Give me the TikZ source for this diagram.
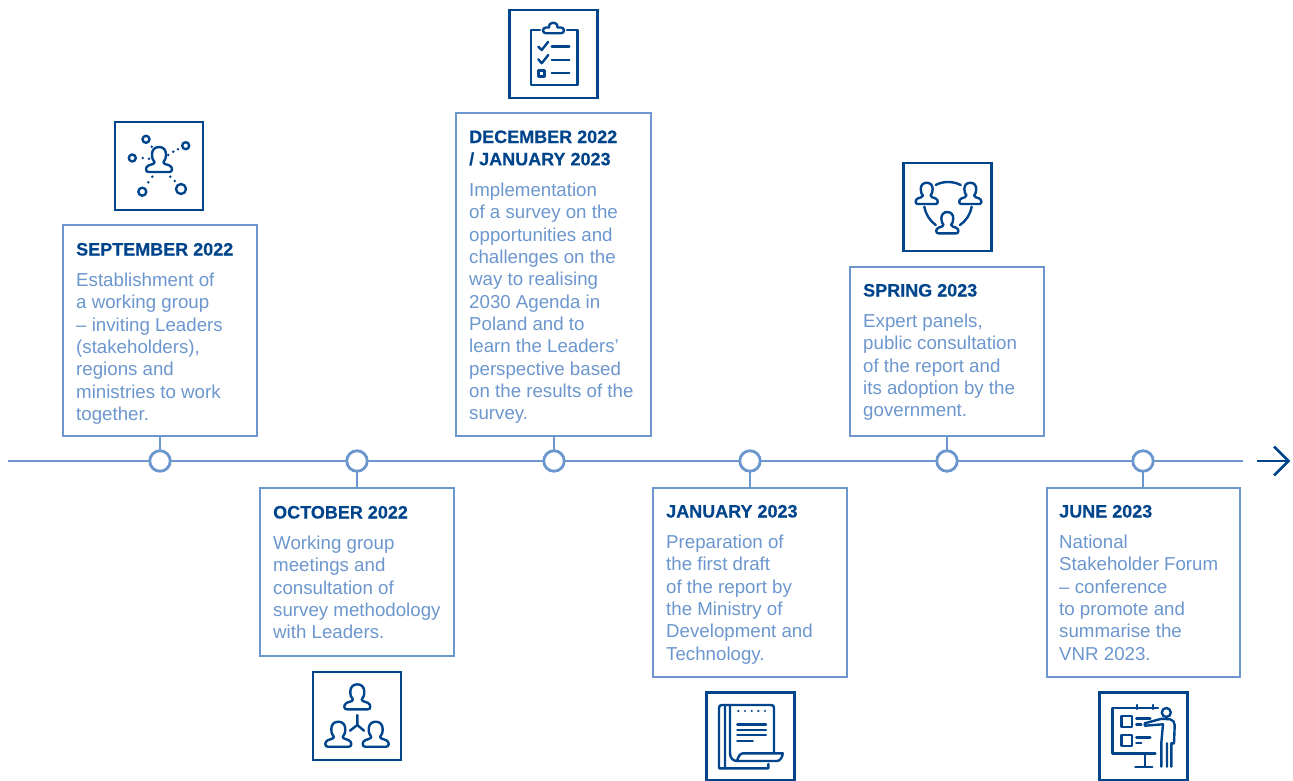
\documentclass[tikz,border=0pt]{standalone}
\usepackage{fontspec}
\setmainfont{Liberation Sans}
\newfontfamily\headfont[FakeBold=0.35]{Liberation Sans Bold}
\definecolor{lite}{HTML}{6C97CE}
\definecolor{deep}{HTML}{00458C}
\tikzset{
 x=1pt,y=-1pt,
 panel/.style={draw=lite,line width=2.8pt,fill=white,anchor=north west,inner sep=0pt,outer sep=0pt},
 iconbox/.style={draw=deep,line width=2.8pt,anchor=north west,minimum width=88pt,minimum height=88pt,inner sep=0pt,outer sep=0pt},
 stop/.style={circle,draw=lite,line width=2.8pt,fill=white,minimum size=20.5pt,inner sep=0pt,outer sep=0pt},
 rail/.style={draw=lite,line width=2.8pt},
 heading/.style={anchor=base west,inner sep=0pt,text=deep,font=\fontsize{18}{22.3}\selectfont\headfont,align=left},
 bodytext/.style={anchor=north west,inner sep=0pt,text=lite,font=\fontsize{18.7}{22.35}\selectfont,align=left},
 glyph/.style={draw=deep,line width=2.4pt,line cap=round,line join=round},
}
\newcommand{\strt}{\rule{0pt}{15pt}}
\newcommand{\personglyph}[3]{%
 \draw[glyph,shift={(#1,#2)},scale=#3] (0,-25) .. controls (-4.5,-25) and (-7,-22) .. (-7,-17.5)
  .. controls (-7,-14) and (-6,-11.5) .. (-4.5,-10) .. controls (-4.5,-7.5) and (-8,-8) .. (-10.5,-6.5)
  .. controls (-12.5,-5.5) and (-13,-4) .. (-13,-2.5) .. controls (-13,-1) and (-12,0) .. (-10.5,0)
  -- (10.5,0) .. controls (12,0) and (13,-1) .. (13,-2.5) .. controls (13,-4) and (12.5,-5.5) .. (10.5,-6.5)
  .. controls (8,-8) and (4.5,-7.5) .. (4.5,-10) .. controls (6,-11.5) and (7,-14) .. (7,-17.5)
  .. controls (7,-22) and (4.5,-25) .. (0,-25) -- cycle;}
\begin{document}
\begin{tikzpicture}
\useasboundingbox (0,0) rectangle (1293,781);
% timeline
\coordinate (railstart) at (8,461);
\coordinate (railend) at (1243,461);
\coordinate (arrowtail) at (1257,461);
\coordinate (arrowtip) at (1288.5,461);
\draw[rail] (railstart) -- (railend);
\draw[draw=deep,line width=2.8pt] (arrowtail) -- (arrowtip);
\draw[draw=deep,line width=2.8pt] (1274,446.5) -- (arrowtip) -- (1274,475.5);
% panels
\node[panel,minimum width=194pt,minimum height=211pt] (box1) at (63,225) {};
\node[panel,minimum width=194pt,minimum height=168pt] (box2) at (260,488) {};
\node[panel,minimum width=195pt,minimum height=323pt] (box3) at (456,113) {};
\node[panel,minimum width=194pt,minimum height=189pt] (box4) at (653,488) {};
\node[panel,minimum width=194pt,minimum height=169pt] (box5) at (850,267) {};
\node[panel,minimum width=193pt,minimum height=189pt] (box6) at (1047,488) {};
% stops and stems
\node[stop] (stop1) at (160,461) {};
\node[stop] (stop2) at (357,461) {};
\node[stop] (stop3) at (554,461) {};
\node[stop] (stop4) at (750,461) {};
\node[stop] (stop5) at (947,461) {};
\node[stop] (stop6) at (1143,461) {};
\draw[rail] (stop1.north) -- (stop1.north |- box1.south);
\draw[rail] (stop2.south) -- (stop2.south |- box2.north);
\draw[rail] (stop3.north) -- (stop3.north |- box3.south);
\draw[rail] (stop4.south) -- (stop4.south |- box4.north);
\draw[rail] (stop5.north) -- (stop5.north |- box5.south);
\draw[rail] (stop6.south) -- (stop6.south |- box6.north);
% texts
\node[heading] (title1) at (76,255.5) {SEPTEMBER 2022};
\node[bodytext] (text1) at (76,271.2) {\strt Establishment of\\a working group\\– inviting Leaders\\(stakeholders),\\regions and\\ministries to work\\together.};
\node[heading] (title2) at (273,518.5) {OCTOBER 2022};
\node[bodytext] (text2) at (273,534.2) {\strt Working group\\meetings and\\consultation of\\survey methodology\\with Leaders.};
\node[heading] (title3) at (469,143) {DECEMBER 2022};
\node[heading] (title3b) at (469,165.3) {/ JANUARY 2023};
\node[bodytext] (text3) at (469,181.2) {\strt Implementation\\of a survey on the\\opportunities and\\challenges on the\\way to realising\\2030 Agenda in\\Poland and to\\learn the Leaders’\\perspective based\\on the results of the\\survey.};
\node[heading] (title4) at (666,517.5) {JANUARY 2023};
\node[bodytext] (text4) at (666,533.2) {\strt Preparation of\\the first draft\\of the report by\\the Ministry of\\Development and\\Technology.};
\node[heading] (title5) at (863,296.5) {SPRING 2023};
\node[bodytext] (text5) at (863,312.2) {\strt Expert panels,\\public consultation\\of the report and\\its adoption by the\\government.};
\node[heading] (title6) at (1059,517.5) {JUNE 2023};
\node[bodytext] (text6) at (1059,533.2) {\strt National\\Stakeholder Forum\\– conference\\to promote and\\summarise the\\VNR 2023.};
% icon frames
\node[iconbox] (icon1) at (115,122) {};
\node[iconbox] (icon2) at (313,672) {};
\node[iconbox] (icon3) at (509.8,10) {};
\node[iconbox] (icon4) at (706.5,692.5) {};
\node[iconbox] (icon5) at (903.5,163) {};
\node[iconbox] (icon6) at (1099.8,692.5) {};
% icon 1: network
\personglyph{159}{172}{1}
\draw[glyph] (146,139.3) circle (3.5);
\draw[glyph] (185.7,145.7) circle (3.5);
\draw[glyph] (132.3,158) circle (3.5);
\draw[glyph] (142.3,191.7) circle (4);
\draw[glyph] (181,189) circle (5);
\foreach \p in {(151.7,146.7),(142.7,158),(149,158.7),(168.3,155),(173.3,151.7),(178,149.3),(170.3,176.7),(174.7,181),(152.3,176.7),(148.3,182.3)}
  \fill[deep] \p circle (1.4);
% icon 2: group
\personglyph{357.3}{709.3}{1}
\personglyph{338.3}{746.7}{1}
\personglyph{375.7}{746.7}{1}
\draw[glyph] (357.3,715) -- (357.3,725) -- (350,730.7) (357.3,725) -- (364,730.7);
% icon 3: clipboard
\draw[glyph] (540,30) -- (530.7,30) -- (530.7,85) -- (577.3,85) -- (577.3,30) -- (567,30);
\draw[glyph] (546,33.3) .. controls (542,33.3) and (542,27.5) .. (546,27.5) -- (549,27.5) .. controls (548.5,21) and (558,21) .. (557.5,27.5) -- (561,27.5) .. controls (565,27.5) and (565,33.3) .. (561,33.3) -- cycle;
\draw[glyph] (538.3,46.7) -- (541.7,50) -- (548.3,41.7);
\draw[glyph] (538.3,59.3) -- (541.7,63.3) -- (548.3,55);
\draw[glyph] (551.7,46.7) -- (569.3,46.7) (551.7,60) -- (569.3,60) (551.7,73.3) -- (569.3,73.3);
\draw[glyph] (538.3,70.7) rectangle (544.5,76.7);
% icon 4: book
\draw[glyph] (730,753) -- (730,705) (725,705) -- (725,768.3) (730,705) -- (771,705) .. controls (773,705) and (774,706) .. (774,708) -- (774,753);
\draw[glyph] (730,705) -- (722,705) .. controls (720,705) and (719,706) .. (719,708) -- (719,768.3) -- (768.3,768.3) -- (768.3,764);
\draw[glyph] (730,753) .. controls (730,758) and (733,761) .. (737,761) -- (777,761) .. controls (780,761) and (782.7,757) .. (782.7,753.3) -- (743,753.3) .. controls (740,753.3) and (738,757) .. (737,761);
\foreach \q in {738.3,745,751.7,758.3,765} \fill[deep] (\q,711) circle (1.2);
\draw[glyph] (737.3,724.3) -- (766,724.3) (737.3,729.7) -- (766,729.7) (737.3,735) -- (766,735) (737.3,740.7) -- (752.7,740.7);
% icon 5: circle of people
\personglyph{926.7}{204}{0.85}
\personglyph{970.3}{204}{0.85}
\personglyph{947.3}{233.3}{0.85}
\draw[glyph] (935.7,185) .. controls (943,181) and (953,181) .. (960.7,185);
\draw[glyph] (924.3,206.7) .. controls (925.5,214) and (930,221) .. (935.7,225);
\draw[glyph] (971.7,206.7) .. controls (970.5,214) and (966,221) .. (960,225);
% icon 6: presenter
\draw[glyph] (1158,707.7) -- (1112.3,707.7) -- (1112.3,753.3) -- (1155.3,753.3);
\draw[glyph] (1137,705) -- (1137,709) (1153,705) -- (1153,709);
\draw[glyph] (1144.7,755) -- (1144.7,766.7) (1135.3,766.7) -- (1152.3,766.7);
\draw[glyph] (1121.3,716) rectangle (1132,726.7);
\draw[glyph] (1121.3,735) rectangle (1132,745.7);
\draw[glyph] (1136.3,718.3) -- (1150.3,718.3) (1136.3,724.3) -- (1141.3,724.3) (1136.3,737.3) -- (1150.3,737.3) (1136.3,742.7) -- (1141.3,742.7);
\draw[glyph] (1166.3,712.5) circle (4.5);
\draw[glyph] (1144.7,725.7) -- (1144.7,723.3) -- (1161.3,718.8) -- (1170,719.3) .. controls (1173,720) and (1174.7,722) .. (1174.7,725) -- (1174,743.3) -- (1171.3,743.3) -- (1171.3,766.7) (1167,743.3) -- (1167,766.7) (1144.7,725.7) -- (1163,724.3) -- (1161.3,743) -- (1161.3,766.7);
\end{tikzpicture}
\end{document}
